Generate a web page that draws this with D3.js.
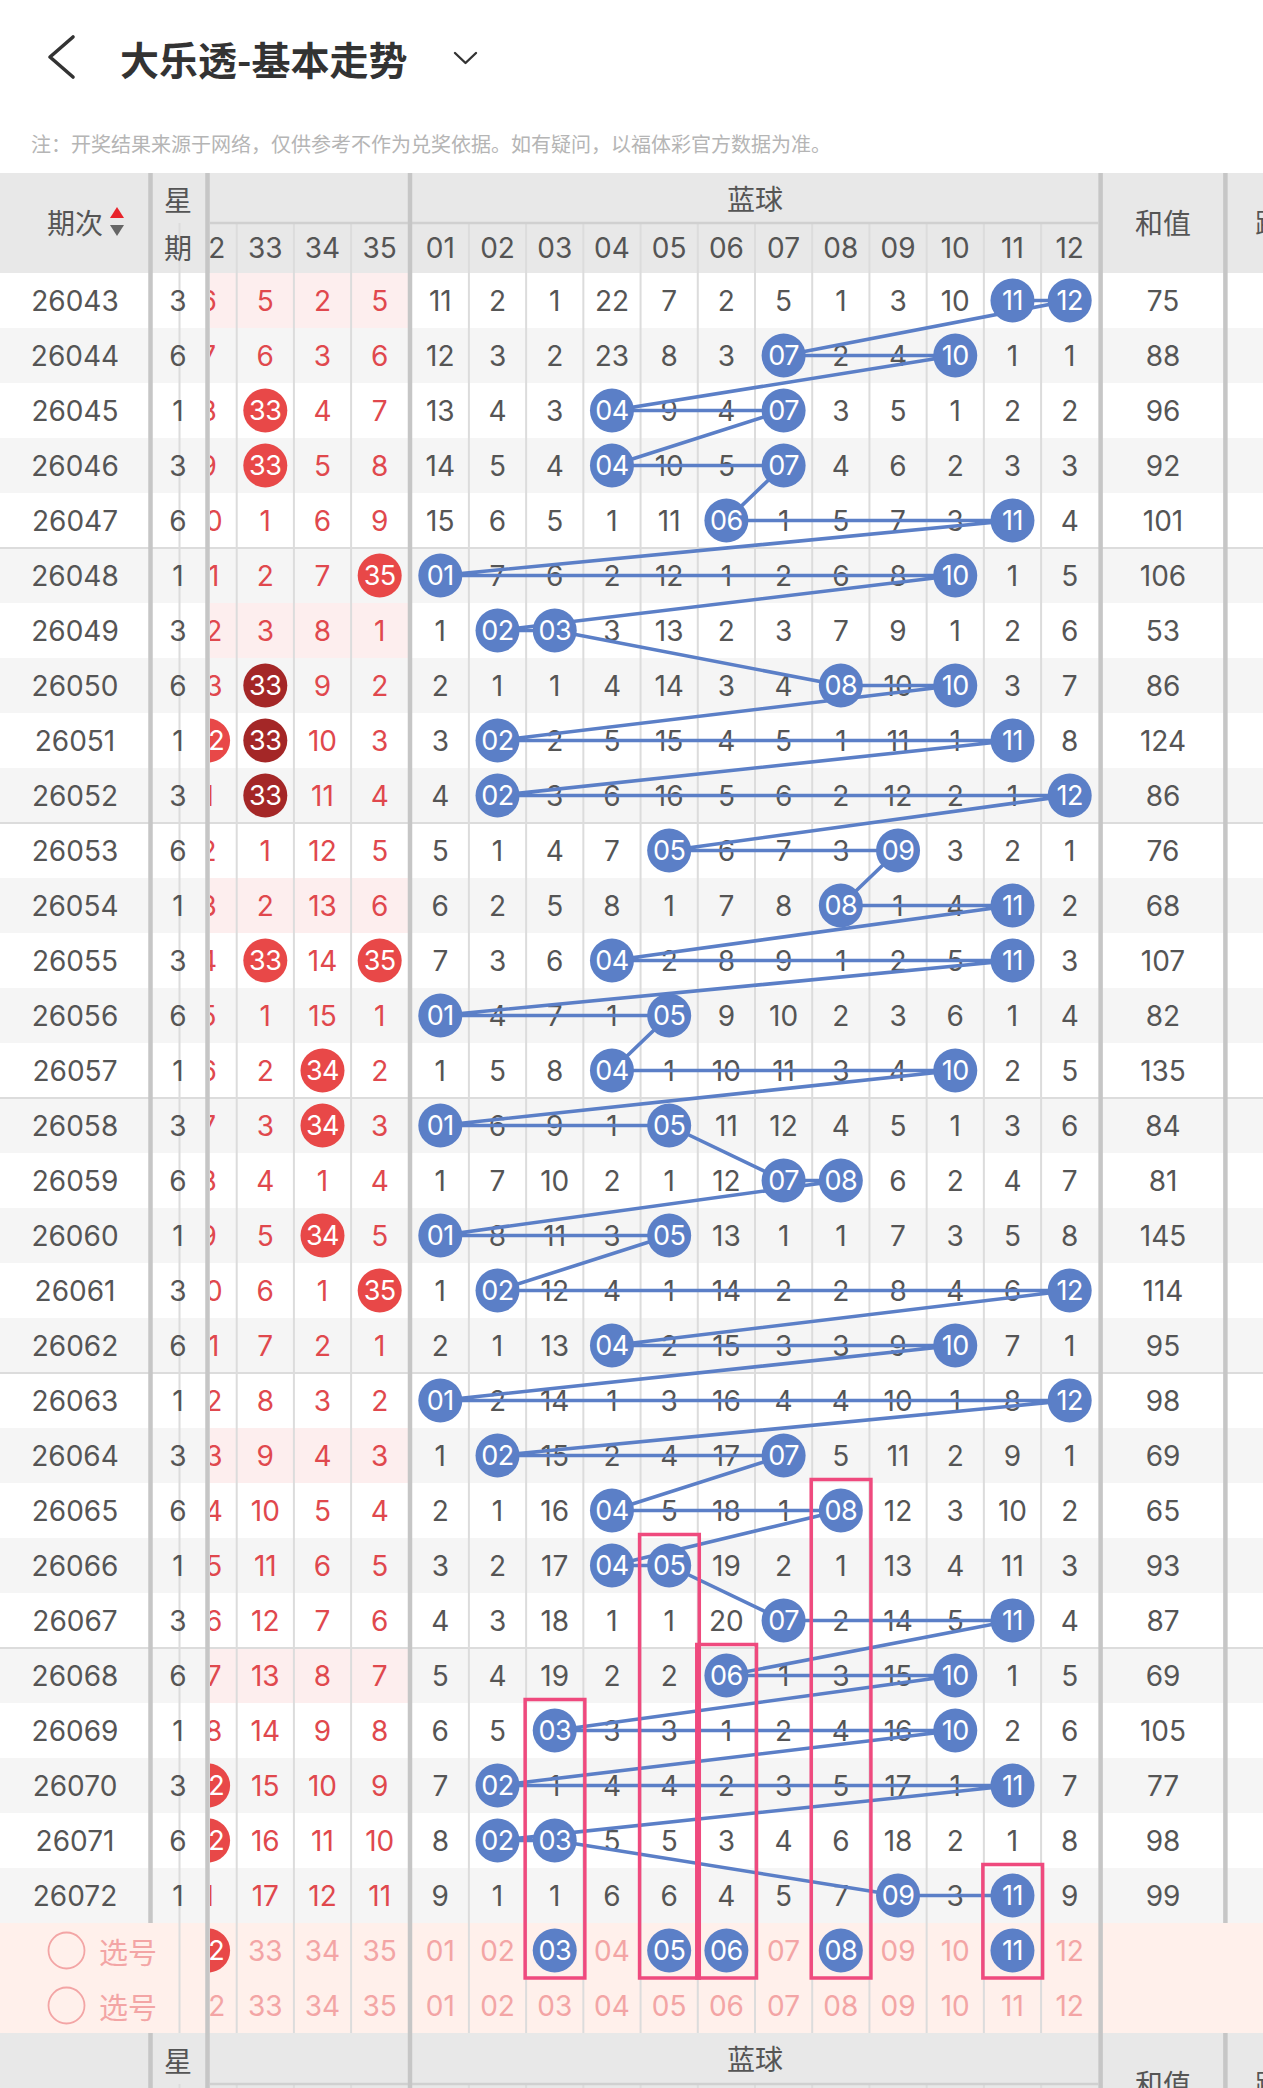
<!DOCTYPE html>
<html><head><meta charset="utf-8">
<script src="https://cdn.jsdelivr.net/npm/d3@7"></script>
<style>html,body{margin:0;padding:0;background:#fff;}svg{display:block}</style>
</head><body><svg id="c" width="1263" height="2088"></svg>
<script>
// ---------------- data ----------------
const periods = ["26043","26044","26045","26046","26047","26048","26049","26050","26051","26052",
  "26053","26054","26055","26056","26057","26058","26059","26060","26061","26062",
  "26063","26064","26065","26066","26067","26068","26069","26070","26071","26072"];
const weekdays = [3,6,1,3,6,1,3,6,1,3,6,1,3,6,1,3,6,1,3,6,1,3,6,1,3,6,1,3,6,1];
const sums = [75,88,96,92,101,106,53,86,124,86,76,68,107,82,135,84,81,145,114,95,98,69,65,93,87,69,105,77,98,99];
const redNums = ["32","33","34","35"];
const blueNums = ["01","02","03","04","05","06","07","08","09","10","11","12"];
// red-zone omission values per column (0 = number drawn)
const red32 = [6,7,8,9,10,11,12,13,0,1,2,3,4,5,6,7,8,9,10,11,12,13,14,15,16,17,18,0,0,1];
const red33 = [5,6,0,0,1,2,3,0,0,0,1,2,0,1,2,3,4,5,6,7,8,9,10,11,12,13,14,15,16,17];
const red34 = [2,3,4,5,6,7,8,9,10,11,12,13,14,15,0,0,1,0,1,2,3,4,5,6,7,8,9,10,11,12];
const red35 = [5,6,7,8,9,0,1,2,3,4,5,6,0,1,2,3,4,5,0,1,2,3,4,5,6,7,8,9,10,11];
const redDark = [["26050","33"],["26051","33"],["26052","33"]];
const redTintRows = ["26043","26049","26054","26064","26068"];
// blue omission values per period (0 = number drawn)
const blueMiss = [
 [11,2,1,22,7,2,5,1,3,10,0,0],
 [12,3,2,23,8,3,0,2,4,0,1,1],
 [13,4,3,0,9,4,0,3,5,1,2,2],
 [14,5,4,0,10,5,0,4,6,2,3,3],
 [15,6,5,1,11,0,1,5,7,3,0,4],
 [0,7,6,2,12,1,2,6,8,0,1,5],
 [1,0,0,3,13,2,3,7,9,1,2,6],
 [2,1,1,4,14,3,4,0,10,0,3,7],
 [3,0,2,5,15,4,5,1,11,1,0,8],
 [4,0,3,6,16,5,6,2,12,2,1,0],
 [5,1,4,7,0,6,7,3,0,3,2,1],
 [6,2,5,8,1,7,8,0,1,4,0,2],
 [7,3,6,0,2,8,9,1,2,5,0,3],
 [0,4,7,1,0,9,10,2,3,6,1,4],
 [1,5,8,0,1,10,11,3,4,0,2,5],
 [0,6,9,1,0,11,12,4,5,1,3,6],
 [1,7,10,2,1,12,0,0,6,2,4,7],
 [0,8,11,3,0,13,1,1,7,3,5,8],
 [1,0,12,4,1,14,2,2,8,4,6,0],
 [2,1,13,0,2,15,3,3,9,0,7,1],
 [0,2,14,1,3,16,4,4,10,1,8,0],
 [1,0,15,2,4,17,0,5,11,2,9,1],
 [2,1,16,0,5,18,1,0,12,3,10,2],
 [3,2,17,0,0,19,2,1,13,4,11,3],
 [4,3,18,1,1,20,0,2,14,5,0,4],
 [5,4,19,2,2,0,1,3,15,0,1,5],
 [6,5,0,3,3,1,2,4,16,0,2,6],
 [7,0,1,4,4,2,3,5,17,1,0,7],
 [8,0,0,5,5,3,4,6,18,2,1,8],
 [9,1,1,6,6,4,5,7,0,3,0,9]];
const pickRed = ["32"];
const pickBlue = ["03","05","06","08","11"];
const boxCols = ["03","05","06","08","11"];
const boxFrom = ["26069","26066","26068","26065","26072"];

// ---------------- layout ----------------
const W = 1263, H = 2088;
const NUMF = "Inter, 'Noto Sans CJK SC', sans-serif";
const CJK = "'Noto Sans CJK SC', sans-serif";
const C = {grayText:"#555", redText:"#e0484d", red:"#e84848", dark:"#a42727", blue:"#5b7fc7",
  pinkText:"#f3a5a5", selBg:"#fff0eb", tint:"#fdeeee", alt:"#f5f5f5", head:"#e8e8e8",
  grid:"#dcdcdc", sep:"#c6c6c6", box:"#ef4a7e"};
const svg = d3.select("#c");
const y = d3.scaleBand().domain([...periods, "sel1", "sel2"]).range([273, 273 + 32*55]);
const xb = d3.scaleBand().domain(blueNums).range([411.7, 1098.3]);
const xr = d3.scaleBand().domain(redNums).range([179.5, 408.3]);
const rh = y.bandwidth();
const cy = p => y(p) + rh/2;
const cxb = n => xb(n) + xb.bandwidth()/2;
const cxr = n => xr(n) + xr.bandwidth()/2;
const redCols = [red32, red33, red34, red35];
const BR = 22;

const defs = svg.append("defs");
defs.append("clipPath").attr("id","redclip").append("rect").attr("x",210).attr("y",0).attr("width",198.3).attr("height",H);

// title
svg.append("path").attr("d","M73,37 L50,57 L73,77").attr("fill","none").attr("stroke","#333").attr("stroke-width",3.6).attr("stroke-linecap","round").attr("stroke-linejoin","round");
svg.append("text").attr("x",120).attr("y",58).attr("dominant-baseline","central").attr("font-family",CJK).attr("font-weight",700).attr("font-size",39).attr("fill","#333").text("大乐透-基本走势");
svg.append("path").attr("d","M455,53 L465.5,63 L476,53").attr("fill","none").attr("stroke","#333").attr("stroke-width",2.4).attr("stroke-linecap","round").attr("stroke-linejoin","round");
svg.append("text").attr("x",31).attr("y",143).attr("dominant-baseline","central").attr("font-family",CJK).attr("font-size",20).attr("fill","#b5b5b5").text("注：开奖结果来源于网络，仅供参考不作为兑奖依据。如有疑问，以福体彩官方数据为准。");

// row backgrounds
svg.append("g").selectAll("rect").data(periods).join("rect")
  .attr("x",0).attr("y",d=>y(d)).attr("width",W).attr("height",rh)
  .attr("fill",(d,i)=> i%2 ? C.alt : "#fff");
svg.append("g").selectAll("rect").data(redTintRows).join("rect")
  .attr("x",210).attr("y",d=>y(d)).attr("width",198.3).attr("height",rh).attr("fill",C.tint);
svg.append("rect").attr("x",0).attr("y",y("sel1")).attr("width",W).attr("height",rh*2).attr("fill",C.selBg);

// headers
svg.append("rect").attr("x",0).attr("y",173).attr("width",W).attr("height",100).attr("fill",C.head);
svg.append("rect").attr("x",0).attr("y",2033).attr("width",W).attr("height",H-2033).attr("fill",C.head);

// thin grid lines
const vx = [...redNums.map(n=>xr(n)), ...blueNums.slice(1).map(n=>xb(n))];
const grid = svg.append("g").attr("stroke",C.grid).attr("stroke-width",2);
vx.forEach(x=>{
  grid.append("line").attr("x1",x).attr("x2",x).attr("y1",223).attr("y2",2033);
  grid.append("line").attr("x1",x).attr("x2",x).attr("y1",2084).attr("y2",H);
});
[5,10,15,20,25].forEach(i=>{
  const yy = y(periods[i]);
  grid.append("line").attr("x1",0).attr("x2",W).attr("y1",yy).attr("y2",yy);
});
[223, 2084].forEach(yy=>{
  svg.append("line").attr("x1",210).attr("x2",1098.3).attr("y1",yy).attr("y2",yy).attr("stroke","#d0d0d0").attr("stroke-width",2.5);
});

// thick separators
const seps = [[150.5,[[173,1923],[2033,H]]],[207.5,[[173,H]]],[410,[[173,H]]],[1100.6,[[173,H]]],[1225.4,[[173,1923],[2033,H]]]];
seps.forEach(([x,segs])=>segs.forEach(([a,b])=>{
  svg.append("line").attr("x1",x).attr("x2",x).attr("y1",a).attr("y2",b).attr("stroke",C.sep).attr("stroke-width",4.5);
}));

// header texts
function htext(x, yy, t, opts={}) {
  return svg.append("text").attr("x",x).attr("y",yy).attr("text-anchor",opts.anchor||"middle")
    .attr("dominant-baseline","central").attr("font-family",opts.font||CJK)
    .attr("font-size",opts.size||28).attr("fill",opts.fill||C.grayText).text(t);
}
htext(75, 222, "期次");
svg.append("path").attr("d","M117,207 L124,218 L110,218 Z").attr("fill","#e8232a");
svg.append("path").attr("d","M110,225 L124,225 L117,236 Z").attr("fill","#666");
htext(178, 199, "星"); htext(178, 247, "期");
htext((411.7+1098.3)/2, 198, "蓝球");
htext(1163, 222, "和值");
htext(1255, 222, "跨度", {anchor:"start"});
// bottom header
htext(178, 2060, "星");
htext((411.7+1098.3)/2, 2058, "蓝球");
htext(1163, 2083, "和值");
htext(1255, 2083, "跨度", {anchor:"start"});

const redG = svg.append("g").attr("clip-path","url(#redclip)");
redNums.forEach(n=>{
  redG.append("text").attr("x",cxr(n)).attr("y",248).attr("text-anchor","middle").attr("dominant-baseline","central")
    .attr("font-family",NUMF).attr("font-size",28).attr("fill",C.grayText).text(n);
});
blueNums.forEach(n=>htext(cxb(n),248,n,{font:NUMF}));

// body: period / weekday / sum
const body = svg.append("g").attr("font-family",NUMF).attr("font-size",28).attr("text-anchor","middle").attr("dominant-baseline","central");
body.selectAll("text.p").data(periods).join("text").attr("class","p").attr("x",75).attr("y",d=>cy(d)).attr("fill",C.grayText).text(d=>d);
body.selectAll("text.w").data(weekdays).join("text").attr("class","w").attr("x",178).attr("y",(d,i)=>cy(periods[i])).attr("fill",C.grayText).text(d=>d);
body.selectAll("text.s").data(sums).join("text").attr("class","s").attr("x",1163).attr("y",(d,i)=>cy(periods[i])).attr("fill",C.grayText).text(d=>d);

// red zone
function ball(g, x, yy, t, fill) {
  g.append("circle").attr("cx",x).attr("cy",yy).attr("r",BR).attr("fill",fill);
  g.append("text").attr("x",x).attr("y",yy).attr("text-anchor","middle").attr("dominant-baseline","central")
    .attr("font-family",NUMF).attr("font-size",27).attr("fill","#fff").attr("letter-spacing",-0.5).text(t);
}
const darkSet = new Set(redDark.map(d=>d.join("|")));
redNums.forEach((n,j)=>{
  redCols[j].forEach((v,i)=>{
    const p = periods[i];
    if (v === 0) ball(redG, cxr(n), cy(p), n, darkSet.has(p+"|"+n) ? C.dark : C.red);
    else redG.append("text").attr("x",cxr(n)).attr("y",cy(p)).attr("text-anchor","middle").attr("dominant-baseline","central")
      .attr("font-family",NUMF).attr("font-size",28).attr("fill",C.redText).text(v);
  });
  // selection rows
  if (pickRed.includes(n)) ball(redG, cxr(n), cy("sel1"), n, C.red);
  else redG.append("text").attr("x",cxr(n)).attr("y",cy("sel1")).attr("text-anchor","middle").attr("dominant-baseline","central")
      .attr("font-family",NUMF).attr("font-size",28).attr("fill",C.pinkText).text(n);
  redG.append("text").attr("x",cxr(n)).attr("y",cy("sel2")).attr("text-anchor","middle").attr("dominant-baseline","central")
      .attr("font-family",NUMF).attr("font-size",28).attr("fill",C.pinkText).text(n);
});

// blue zone numbers
const blueG = svg.append("g");
const pts = [];
periods.forEach((p,i)=>{
  blueMiss[i].forEach((v,j)=>{
    const n = blueNums[j];
    if (v === 0) pts.push([cxb(n), cy(p), n]);
    else blueG.append("text").attr("x",cxb(n)).attr("y",cy(p)).attr("text-anchor","middle").attr("dominant-baseline","central")
      .attr("font-family",NUMF).attr("font-size",28).attr("fill",C.grayText).text(v);
  });
});
blueNums.forEach(n=>{
  if (!pickBlue.includes(n)) blueG.append("text").attr("x",cxb(n)).attr("y",cy("sel1")).attr("text-anchor","middle").attr("dominant-baseline","central")
      .attr("font-family",NUMF).attr("font-size",28).attr("fill",C.pinkText).text(n);
  blueG.append("text").attr("x",cxb(n)).attr("y",cy("sel2")).attr("text-anchor","middle").attr("dominant-baseline","central")
      .attr("font-family",NUMF).attr("font-size",28).attr("fill",C.pinkText).text(n);
});
// trend line
svg.append("path").attr("d", d3.line()(pts.map(d=>[d[0],d[1]]))).attr("fill","none")
  .attr("stroke",C.blue).attr("stroke-width",3.6).attr("stroke-linejoin","round");
const ballG = svg.append("g");
pts.forEach(d=>ball(ballG, d[0], d[1], d[2], C.blue));
pickBlue.forEach(n=>ball(ballG, cxb(n), cy("sel1"), n, C.blue));

// selection labels
["sel1","sel2"].forEach(s=>{
  svg.append("circle").attr("cx",66.5).attr("cy",cy(s)).attr("r",18).attr("fill","none").attr("stroke",C.pinkText).attr("stroke-width",1.8);
  htext(99, cy(s), "选号", {anchor:"start", size:29, fill:C.pinkText});
});

// highlight boxes
boxCols.forEach((c,i)=>{
  const top = cy(boxFrom[i]) - 31;
  const bot = y("sel1") + rh;
  svg.append("rect").attr("x",xb(c)-1).attr("y",top).attr("width",xb.bandwidth()+2.5).attr("height",bot-top)
    .attr("fill","none").attr("stroke",C.box).attr("stroke-width",3.5);
});
</script></body></html>
